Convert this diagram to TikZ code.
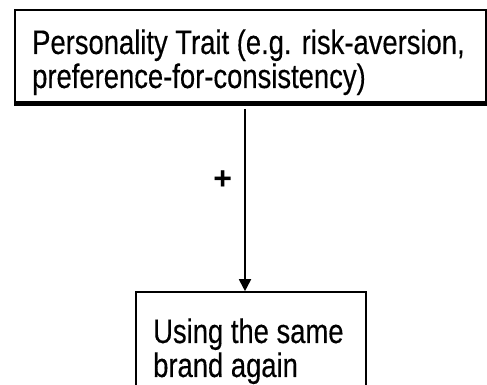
\documentclass[tikz,border=0pt]{standalone}
\usepackage{fontspec}
\setmainfont{Liberation Sans}
\newfontfamily\narrowface[FakeStretch=0.806,FakeBold=0.3]{Liberation Sans}
\usetikzlibrary{arrows.meta}
\begin{document}
\begin{tikzpicture}[x=1pt,y=1pt,
  box/.style={draw=black, line width=1.6pt, rectangle, inner sep=0pt},
  label/.style={anchor=base west, inner sep=0pt, align=left,
    font=\narrowface\fontsize{34}{34}\selectfont},
  link/.style={draw=black, line width=1.8pt, -{Triangle[length=12pt,width=12pt]}, shorten <=6pt},
  sign/.style={font=\fontsize{32}{34}\selectfont\bfseries, inner sep=0pt}]
\useasboundingbox (0,0) rectangle (487,385);
\clip (0,0) rectangle (487,385);
% cause box with its heavier lower edge
\node[box, minimum width=471pt, minimum height=92pt] (trait) at (250.5,329) {};
\draw[line width=4pt] ([yshift=-1pt]trait.south west) -- ([yshift=-1pt]trait.south east);
\node[label] (traittext) at (32,297) {Personality Trait (e.g. risk-aversion,\\preference-for-consistency)};
% effect box, running past the lower edge
\node[box, minimum width=230pt, minimum height=112pt] (brand) at (251,37) {};
\node[label] (brandtext) at (153,8) {Using the same\\brand again};
% positive link
\draw[link] ([xshift=-5.5pt]trait.south) -- node[sign, pos=0.41, xshift=-22.3pt] {+} ([xshift=-6pt]brand.north);
\end{tikzpicture}
\end{document}
